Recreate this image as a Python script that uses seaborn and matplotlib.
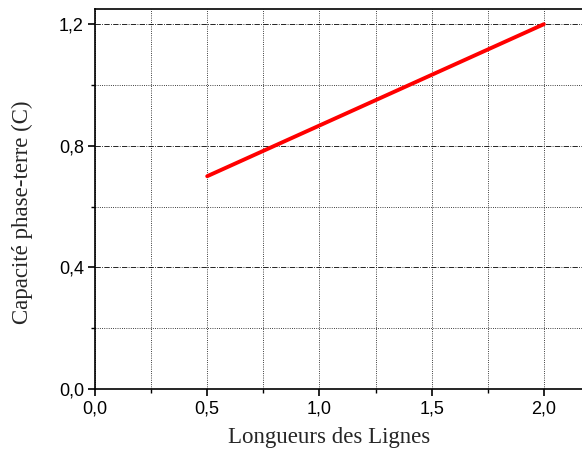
import numpy as np
import pandas as pd
import seaborn as sns
from matplotlib import pyplot as plt
from matplotlib.ticker import MultipleLocator, FuncFormatter

longueur = [0.5, 2.0]
capacite = [0.70, 1.20]

df = pd.DataFrame({'L': longueur, 'C': capacite})

sns.set_style('ticks')
plt.rcParams['font.family'] = ['Liberation Sans', 'DejaVu Sans']

fig = plt.figure(figsize=(5.82, 4.55), dpi=100)
ax = fig.add_axes([95/582, 1 - 389/455, 1 - 95/582, (389 - 9)/455])

sns.lineplot(data=df, x='L', y='C', color='red', lw=2.8, ax=ax)

ax.set_xlim(0, 2.17)
ax.set_ylim(0, 1.25)
ax.xaxis.set_major_locator(MultipleLocator(0.5))
ax.xaxis.set_minor_locator(MultipleLocator(0.25))
ax.yaxis.set_major_locator(MultipleLocator(0.4))
ax.yaxis.set_minor_locator(MultipleLocator(0.2))
fmt = FuncFormatter(lambda v, p: ('%.1f' % v).replace('.', ','))
ax.xaxis.set_major_formatter(fmt)
ax.yaxis.set_major_formatter(fmt)

ax.grid(True, which='major', axis='y', color='black', ls='-.', lw=0.6)
ax.grid(True, which='minor', axis='y', color='black', ls=':', lw=0.6)
ax.grid(True, which='both', axis='x', color='black', ls=':', lw=0.6)
ax.set_axisbelow(True)

for s in ['left', 'bottom', 'top']:
    ax.spines[s].set_linewidth(1.2)
    ax.spines[s].set_color('black')
ax.spines['right'].set_visible(False)

ax.tick_params(which='major', direction='out', length=5, width=1.2, labelsize=13, colors='black', pad=3)
ax.tick_params(which='minor', direction='out', length=3, width=1.0, colors='black')

ax.set_xlabel('Longueurs des Lignes', fontsize=16.5, family=['Liberation Serif'])
ax.set_ylabel('Capacité phase-terre (C)', fontsize=16.5, family=['Liberation Serif'])
ax.xaxis.set_label_coords(0.4805, -0.1)
ax.yaxis.set_label_coords(-0.127, 0.466)

fig.savefig('out.png', dpi=100)
